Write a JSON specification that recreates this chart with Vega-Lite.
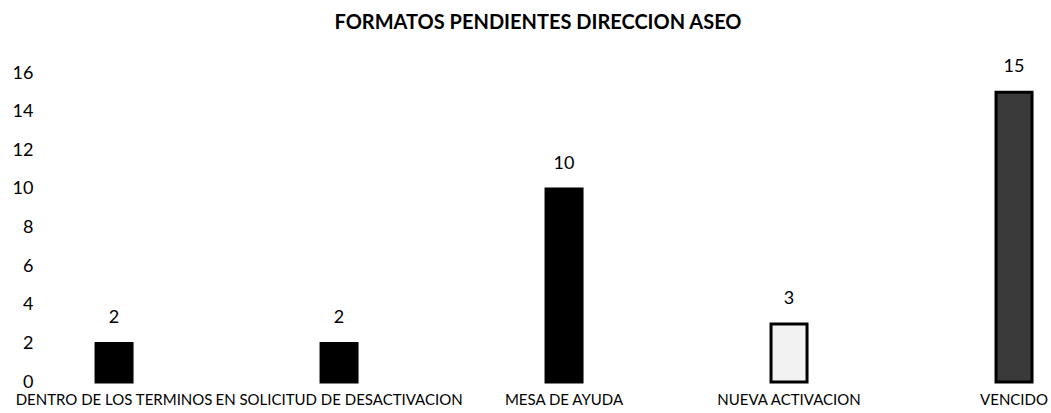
{
  "$schema": "https://vega.github.io/schema/vega-lite/v6.json",
  "autosize": {"type": "none"},
  "padding": {"left": 45, "top": 73, "right": 0, "bottom": 31},
  "width": 1006,
  "height": 309,
  "background": "white",
  "title": {
    "text": "FORMATOS PENDIENTES DIRECCION ASEO",
    "font": "Lato",
    "fontSize": 20,
    "fontWeight": "bold",
    "color": "black",
    "anchor": "middle",
    "dx": -10,
    "offset": 25
  },
  "data": {
    "values": [
      {"categoria": "DENTRO DE LOS TERMINOS", "cantidad": 2},
      {"categoria": "EN SOLICITUD DE DESACTIVACION", "cantidad": 2},
      {"categoria": "MESA DE AYUDA", "cantidad": 10},
      {"categoria": "NUEVA ACTIVACION", "cantidad": 3},
      {"categoria": "VENCIDO", "cantidad": 15}
    ]
  },
  "config": {"view": {"stroke": null}},
  "encoding": {
    "x": {
      "field": "categoria",
      "type": "nominal",
      "sort": null,
      "title": null,
      "scale": {"paddingInner": 0.84, "paddingOuter": 0.1556, "align": 0.729},
      "axis": {
        "labelAngle": 0,
        "labelFont": "Lato",
        "labelFontSize": 15,
        "labelColor": "black",
        "labelOverlap": false,
        "labelLimit": 0,
        "labelPadding": 10,
        "domain": false,
        "ticks": false
      }
    },
    "y": {
      "field": "cantidad",
      "type": "quantitative",
      "title": null,
      "scale": {"domain": [0, 16]},
      "axis": {
        "values": [0, 2, 4, 6, 8, 10, 12, 14, 16],
        "labelFont": "Lato",
        "labelFontSize": 18,
        "labelColor": "black",
        "labelPadding": 12,
        "domain": false,
        "ticks": false,
        "grid": false
      }
    }
  },
  "layer": [
    {
      "mark": {"type": "bar", "stroke": "black", "strokeWidth": 3},
      "encoding": {
        "color": {
          "field": "categoria",
          "type": "nominal",
          "legend": null,
          "scale": {
            "domain": ["DENTRO DE LOS TERMINOS", "EN SOLICITUD DE DESACTIVACION", "MESA DE AYUDA", "NUEVA ACTIVACION", "VENCIDO"],
            "range": ["#000000", "#000000", "#000000", "#f2f2f2", "#3a3a3a"]
          }
        }
      }
    },
    {
      "mark": {"type": "text", "font": "Lato", "fontSize": 18, "color": "black", "baseline": "bottom", "dy": -16},
      "encoding": {"text": {"field": "cantidad", "type": "quantitative"}}
    }
  ]
}
